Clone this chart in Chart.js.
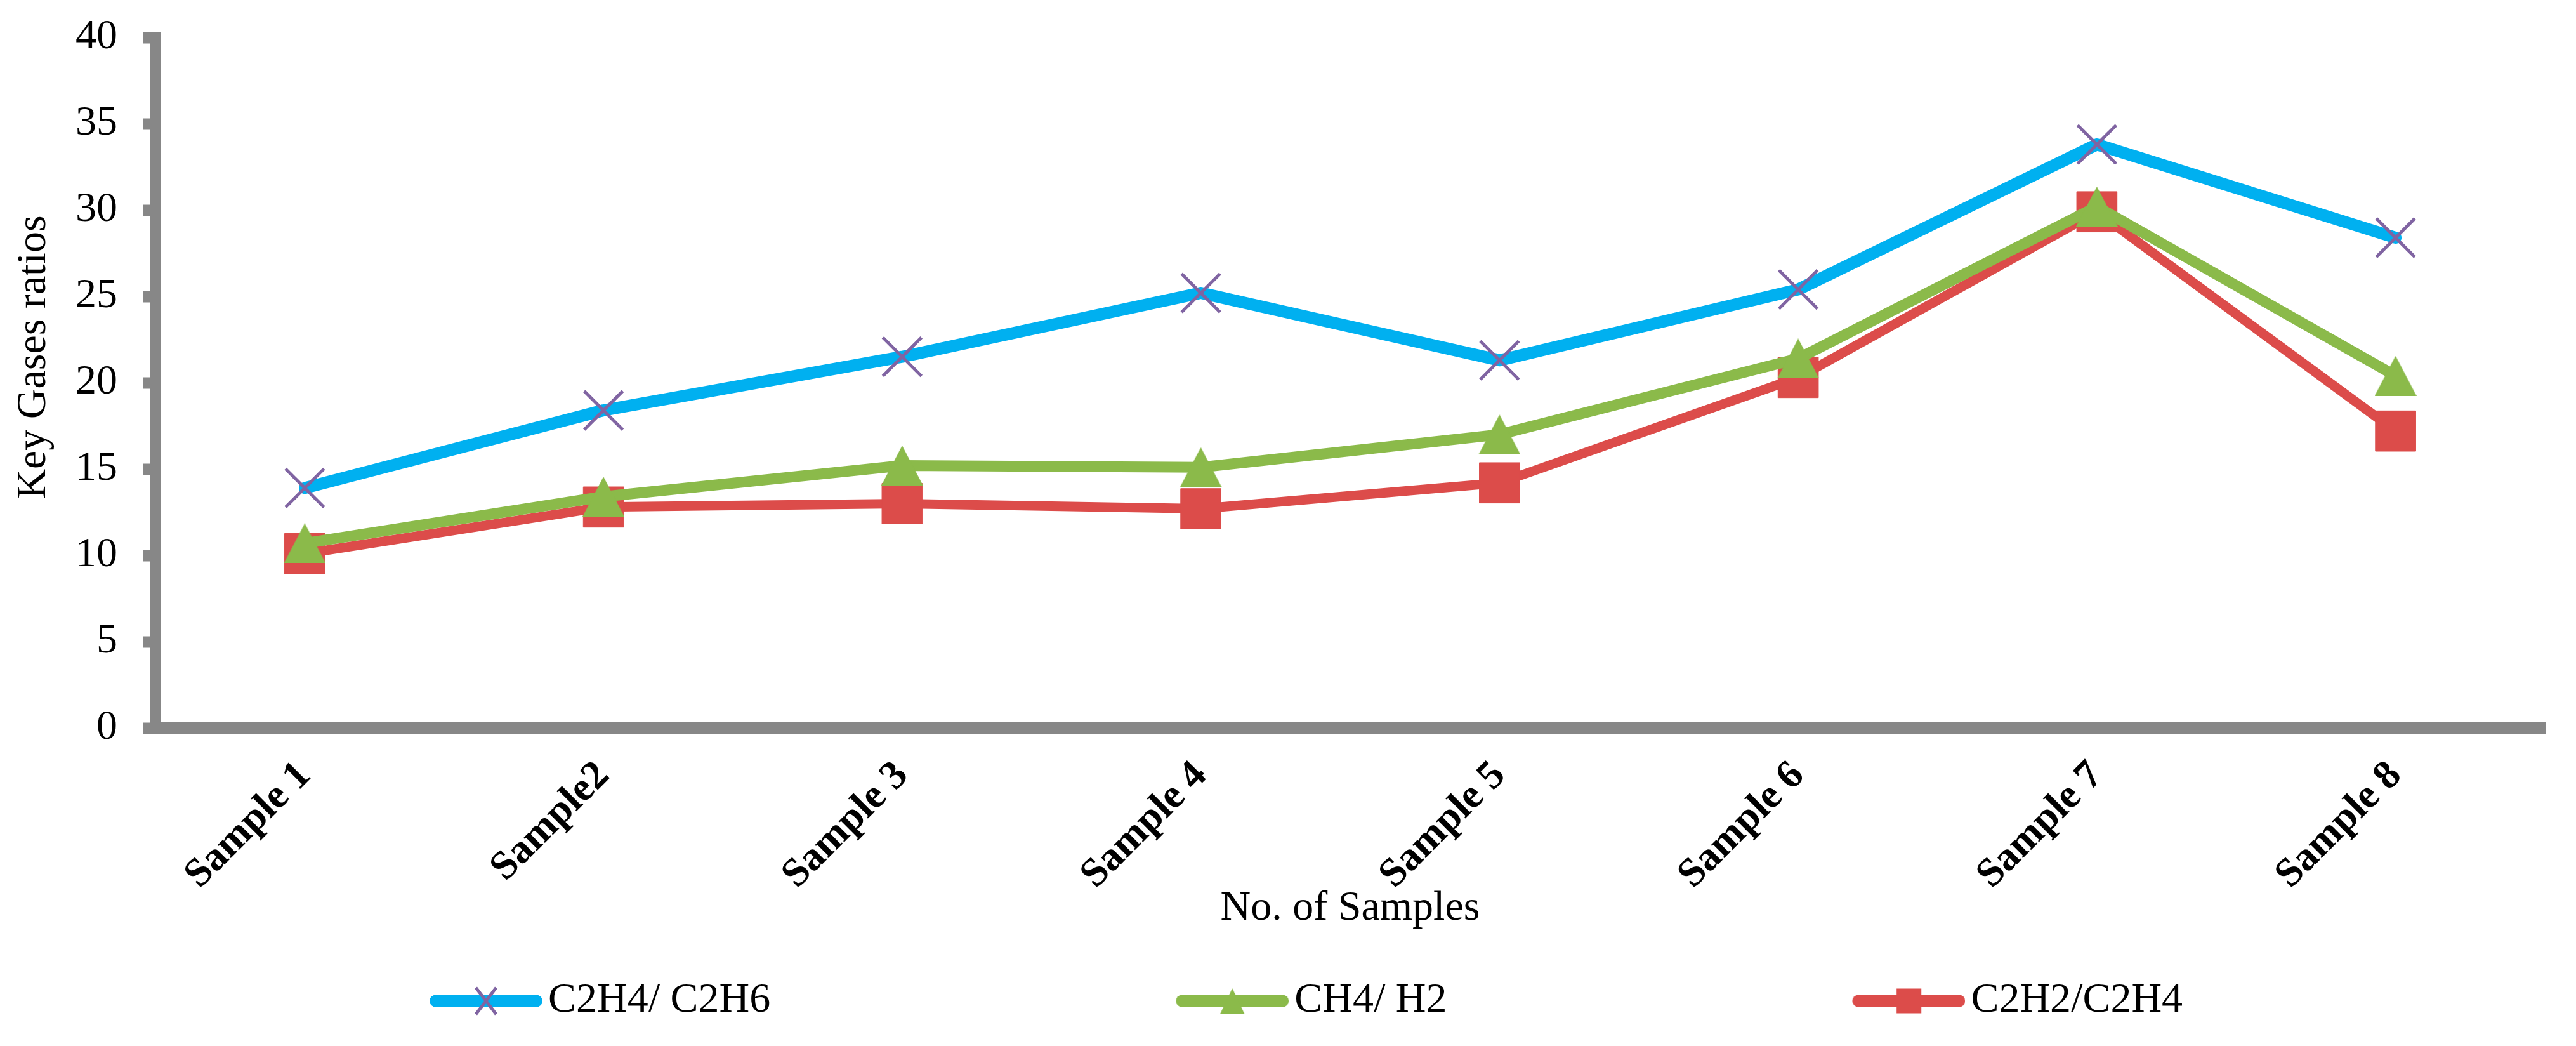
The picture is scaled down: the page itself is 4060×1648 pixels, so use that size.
<!DOCTYPE html>
<html>
<head>
<meta charset="utf-8">
<script src="https://cdn.jsdelivr.net/npm/chart.js@4.4.1/dist/chart.umd.min.js"></script>
<style>
html,body{margin:0;padding:0;background:#ffffff;}
canvas{display:block;}
</style>
</head>
<body>
<canvas id="c" width="4060" height="1648" style="width:4060px;height:1648px"></canvas>
<script>
// ---- data ----
const categories = ['Sample 1', 'Sample2', 'Sample 3', 'Sample 4', 'Sample 5', 'Sample 6', 'Sample 7', 'Sample 8'];
const seriesNames = ['C2H4/ C2H6', 'CH4/ H2', 'C2H2/C2H4'];
const c2h4_c2h6 = [13.9, 18.4, 21.5, 25.2, 21.3, 25.4, 33.8, 28.4];
const ch4_h2    = [10.7, 13.4, 15.2, 15.1, 17.0, 21.4, 30.2, 20.4];
const c2h2_c2h4 = [10.1, 12.8, 13.0, 12.7, 14.2, 20.3, 29.9, 17.2];
const yTickValues = [0, 5, 10, 15, 20, 25, 30, 35, 40];
const xTitle = 'No. of Samples';
const yTitle = 'Key Gases ratios';

// ---- styles ----
const BLUE = '#00B0F0', GREEN = '#8BBA4A', RED = '#DC4C4A', PURPLE = '#8064A2', AXIS = '#878787';
const FONT = "'Liberation Serif', 'Times New Roman', Times, serif";

function makeTriangle(w, h, color) {
  const cv = document.createElement('canvas');
  cv.width = w; cv.height = h;
  const g = cv.getContext('2d');
  g.fillStyle = color;
  g.beginPath();
  g.moveTo(w / 2, 0); g.lineTo(w, h); g.lineTo(0, h); g.closePath();
  g.fill();
  return cv;
}

function makeLegendIcon(kind, lineColor) {
  const W = 831, H = 72, cy = 36, lineL = 653, lineR = 831, lw = 19;
  const cv = document.createElement('canvas');
  cv.width = W; cv.height = H;
  const g = cv.getContext('2d');
  g.strokeStyle = lineColor; g.lineWidth = lw; g.lineCap = 'round';
  g.beginPath(); g.moveTo(lineL + lw / 2, cy); g.lineTo(lineR - lw / 2, cy); g.stroke();
  const cx = (lineL + lineR) / 2;
  if (kind === 'x') {
    g.strokeStyle = PURPLE; g.lineWidth = 5; g.lineCap = 'butt';
    g.beginPath();
    g.moveTo(cx - 16, cy - 21); g.lineTo(cx + 16, cy + 21);
    g.moveTo(cx + 16, cy - 21); g.lineTo(cx - 16, cy + 21);
    g.stroke();
  } else if (kind === 'tri') {
    g.fillStyle = GREEN;
    g.beginPath(); g.moveTo(cx, cy - 20); g.lineTo(cx + 19, cy + 20); g.lineTo(cx - 19, cy + 20); g.closePath(); g.fill();
  } else {
    g.fillStyle = RED;
    g.fillRect(cx - 19.5, cy - 19.5, 39, 39);
  }
  return cv;
}

const triangleMarker = makeTriangle(66, 63, GREEN);
const legendIcons = [makeLegendIcon('x', BLUE), makeLegendIcon('tri', GREEN), makeLegendIcon('sq', RED)];

const TITLE_SHIFT = 40;
const shiftYTitle = {
  id: 'shiftYTitle',
  beforeDraw(chart) {
    const s = chart.scales.y;
    if (s && !s._titlePatched) {
      const orig = s.drawTitle.bind(s);
      s.drawTitle = function () {
        const t = this.top, b = this.bottom;
        this.top = t - TITLE_SHIFT; this.bottom = b - TITLE_SHIFT;
        orig();
        this.top = t; this.bottom = b;
      };
      s._titlePatched = true;
    }
  }
};

Chart.defaults.font.family = FONT;
Chart.defaults.color = '#000000';

new Chart(document.getElementById('c'), {
  type: 'line',
  data: {
    labels: categories,
    datasets: [
      {
        label: seriesNames[0], data: c2h4_c2h6, order: 3,
        borderColor: BLUE, borderWidth: 19, borderJoinStyle: 'round', borderCapStyle: 'round',
        pointStyle: 'crossRot', pointRadius: 43, pointBorderColor: PURPLE, pointBorderWidth: 5,
        pointBackgroundColor: PURPLE, tension: 0, fill: false
      },
      {
        label: seriesNames[1], data: ch4_h2, order: 1,
        borderColor: GREEN, borderWidth: 17, borderJoinStyle: 'round', borderCapStyle: 'round',
        pointStyle: triangleMarker, pointRadius: 32, tension: 0, fill: false
      },
      {
        label: seriesNames[2], data: c2h2_c2h4, order: 2,
        borderColor: RED, borderWidth: 15, borderJoinStyle: 'round', borderCapStyle: 'round',
        pointStyle: 'rect', pointRadius: 45, pointBackgroundColor: RED, pointBorderColor: RED, pointBorderWidth: 1,
        tension: 0, fill: false
      }
    ]
  },
  options: {
    responsive: false,
    devicePixelRatio: 1,
    animation: false,
    events: [],
    layout: { padding: { left: 38, right: 31, top: 59, bottom: 28 } },
    plugins: {
      tooltip: { enabled: false },
      title: { display: false },
      legend: {
        position: 'bottom',
        align: 'start',
        labels: {
          usePointStyle: true,
          pointStyleWidth: 783,
          padding: 10,
          color: '#000000',
          font: { family: FONT, size: 66 },
          generateLabels: (chart) => chart.data.datasets.map((ds, i) => ({
            text: ds.label,
            fillStyle: ds.borderColor,
            strokeStyle: ds.borderColor,
            lineWidth: 0,
            pointStyle: legendIcons[i],
            hidden: false,
            datasetIndex: i,
            fontColor: '#000000'
          }))
        }
      }
    },
    scales: {
      x: {
        type: 'category',
        offset: true,
        grid: { display: true, drawOnChartArea: false, drawTicks: false },
        border: { display: true, color: AXIS, width: 18 },
        ticks: {
          autoSkip: false, minRotation: 45, maxRotation: 45, padding: 38,
          color: '#000000', font: { family: FONT, size: 64, weight: 'bold' }
        },
        title: {
          display: true, text: xTitle, color: '#000000',
          font: { family: FONT, size: 66, lineHeight: 1.2 },
          padding: { top: 0, bottom: 63 }
        },
        afterFit: (s) => { s.height = 387; }
      },
      y: {
        type: 'linear',
        min: 0, max: 40,
        afterBuildTicks: (s) => { s.ticks = yTickValues.map(v => ({ value: v })); },
        grid: {
          display: true, drawOnChartArea: false, drawTicks: true,
          tickLength: 19, tickWidth: 18, tickColor: AXIS
        },
        border: { display: true, color: AXIS, width: 18 },
        ticks: { padding: 41, color: '#000000', font: { family: FONT, size: 66 } },
        title: {
          display: true, text: yTitle, color: '#000000',
          font: { family: FONT, size: 66, lineHeight: 0.47 },
          padding: 0
        },
        afterFit: (s) => { s.width = 207; s.paddingTop = 0; s.paddingBottom = 0; }
      }
    }
  },
  plugins: [shiftYTitle]
});
</script>
</body>
</html>
